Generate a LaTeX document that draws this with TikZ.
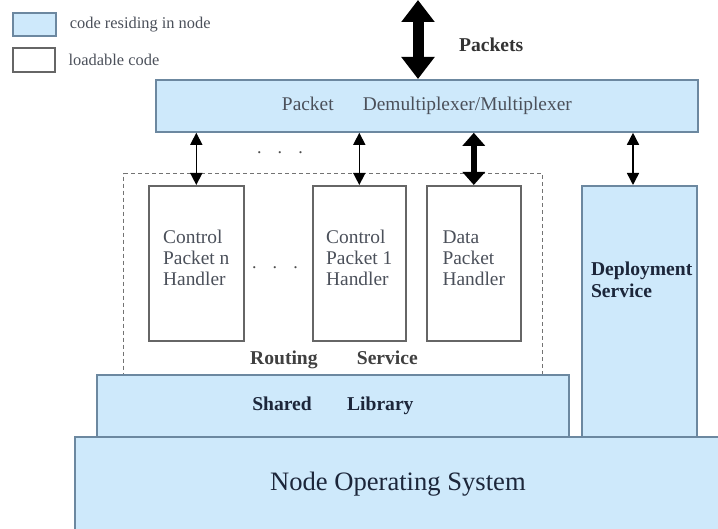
\documentclass[tikz,border=0pt]{standalone}
\usepackage{fontspec}
\setmainfont{Liberation Serif}
\usetikzlibrary{positioning, arrows.meta}
\definecolor{nodeblue}{RGB}{206,233,251}
\definecolor{edgeblue}{RGB}{108,136,160}
\definecolor{navy}{RGB}{28,38,58}
\definecolor{greytext}{RGB}{75,80,90}
\tikzstyle{resident}=[rectangle, draw=edgeblue, fill=nodeblue, line width=0.9pt, inner sep=0pt, anchor=north west, text=navy]
\tikzstyle{loadable}=[rectangle, draw=black!60, fill=white, line width=0.8pt, inner sep=0pt, anchor=north west, text=greytext, align=left]
\tikzstyle{group}=[rectangle, draw=black!55, line width=0.6pt, dash pattern=on 2pt off 1.5pt, inner sep=0pt, anchor=north west]
\tikzstyle{link}=[line width=0.75pt, {Triangle[length=6pt,width=6pt]}-{Triangle[length=6pt,width=6pt]}]
\tikzstyle{datalink}=[line width=3pt, {Triangle[length=6.5pt,width=11pt]}-{Triangle[length=6.5pt,width=11pt]}]
\tikzstyle{netlink}=[line width=5.5pt, {Triangle[length=11pt,width=16pt]}-{Triangle[length=11pt,width=16pt]}]
\tikzstyle{boldtext}=[font=\fontsize{9.8}{11}\selectfont\bfseries]
\tikzstyle{smalltext}=[font=\fontsize{8.2}{9}\selectfont, text=greytext]

\begin{document}
\begin{tikzpicture}[x=0.5pt, y=-0.5pt]
            \useasboundingbox (0,0) rectangle (718,529);
            %Legend
            \node[resident, minimum width=21.5pt, minimum height=11.5pt](keyres) at (12,12){};
            \node[smalltext, right=3pt of keyres](keyrestext){code residing in node};
            \node[loadable, minimum width=21pt, minimum height=12pt](keyload) at (12,47){};
            \node[smalltext, right=3pt of keyload](keyloadtext){loadable code};

            %Packet demultiplexer on top
            \node[resident, minimum width=271pt, minimum height=26pt, text=greytext,
                  font=\fontsize{9.7}{11}\selectfont](demux) at (155,79)
                  {Packet\hspace{1.5em}Demultiplexer/Multiplexer};
            \coordinate (net) at (418,0);
            \draw[netlink] (net) -- (demux.north -| net);
            \node[boldtext, anchor=west, text=black!80](packets) at (452,45){Packets};

            %Routing service with its handlers
            \node[group, minimum width=209.5pt, minimum height=101pt](routing) at (123,173){};
            \node[loadable, minimum width=47.5pt, minimum height=77.5pt,
                  font=\fontsize{9.7}{10.5}\selectfont](ctrln) at (148,185){Control\\Packet n\\Handler\\[-5pt]};
            \node[loadable, minimum width=46.5pt, minimum height=77.5pt,
                  font=\fontsize{9.7}{10.5}\selectfont](ctrlone) at (312,185){Control\\Packet 1\\Handler\\[-5pt]};
            \node[loadable, minimum width=47pt, minimum height=77.5pt,
                  font=\fontsize{9.7}{10.5}\selectfont](data) at (426,185){Data\\Packet\\Handler\\[-5pt]};
            \node[font=\fontsize{9}{9}\selectfont, text=black!70](moreh) at (275,268){.\hspace{0.9em}.\hspace{0.9em}.};
            \node[font=\fontsize{9}{9}\selectfont, text=black!70](morel) at (280,153){.\hspace{0.9em}.\hspace{0.9em}.};
            \node[boldtext, text=black!75](routetext) at (334,360){Routing\hspace{2em}Service};
            \foreach \h in {ctrln, ctrlone}{
                \draw[link] (demux.south -| \h.north) to (\h.north);
            }
            \draw[datalink] (demux.south -| data.north) to (data.north);

            %Deployment service
            \node[resident, minimum width=57.5pt, minimum height=125.5pt](deploy) at (581,185){};
            \node[boldtext, anchor=west, align=left, text=navy](deploytext) at (584,280){Deployment\\Service};
            \draw[link] (demux.south -| 633,0) to (deploy.north -| 633,0);

            %Resident layers at the bottom
            \node[resident, minimum width=236pt, minimum height=31pt, boldtext](shared) at (96,374)
                 {Shared\hspace{1.8em}Library};
            \node[resident, minimum width=323pt, minimum height=47.5pt,
                  font=\fontsize{13.3}{15}\selectfont](nodeos) at (74,436){Node Operating System};
        \end{tikzpicture}
\end{document}
